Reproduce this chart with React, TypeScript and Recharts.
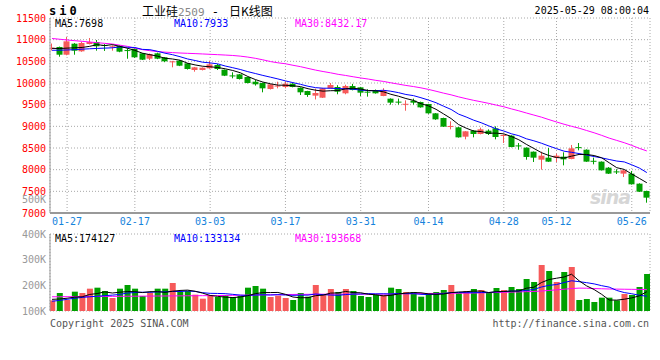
import React from 'react';
import {
  ComposedChart,
  Bar,
  Line,
  Cell,
  XAxis,
  YAxis,
  CartesianGrid,
} from 'recharts';

// ---- daily candles, 2025-01-23 .. 2025-05-28 (index = trading day) ----
const openP = [10805, 10831, 10653, 10907, 10731, 10900, 10946, 10877, 10840, 10860,
  10760, 10792, 10685, 10561, 10685, 10593, 10495, 10515, 10454, 10300,
  10300, 10339, 10415, 10307, 10175, 10200, 10138, 10030, 10000, 9861,
  9935, 9908, 9984, 9891, 9815, 9708, 9661, 9877, 9908, 9762,
  9931, 9900, 9800, 9838, 9700, 9638, 9570, 9513, 9592, 9561,
  9515, 9300, 9192, 9000, 8977, 8761, 8900, 8823, 8900, 8954,
  8785, 8785, 8560, 8508, 8415, 8231, 8277, 8277, 8300, 8246,
  8520, 8461, 8205, 8185, 8046, 7960, 7908, 7908, 7677, 7508];
const highP = [10911, 10840, 11061, 10920, 10946, 11038, 10992, 10900, 10870, 10870,
  10800, 10800, 10690, 10680, 10700, 10600, 10510, 10530, 10460, 10370,
  10360, 10508, 10440, 10310, 10247, 10210, 10145, 10070, 10010, 9975,
  10030, 10030, 9995, 9900, 9820, 9870, 9880, 10000, 9950, 9960,
  9980, 9910, 9855, 9850, 9880, 9645, 9640, 9600, 9640, 9570,
  9520, 9305, 9200, 9115, 8985, 8890, 8915, 8970, 8930, 9000,
  8815, 8795, 8615, 8515, 8420, 8415, 8500, 8370, 8400, 8570,
  8615, 8470, 8277, 8190, 8060, 8010, 7990, 7970, 7685, 7515];
const lowP = [10750, 10607, 10640, 10653, 10720, 10890, 10746, 10740, 10746, 10710,
  10560, 10580, 10530, 10530, 10550, 10480, 10362, 10390, 10310, 10261,
  10290, 10330, 10300, 10160, 10108, 10080, 9990, 9940, 9785, 9850,
  9877, 9877, 9900, 9723, 9680, 9620, 9655, 9870, 9740, 9740,
  9830, 9700, 9685, 9755, 9695, 9500, 9500, 9360, 9500, 9430,
  9290, 9150, 8985, 8930, 8740, 8700, 8746, 8815, 8800, 8700,
  8615, 8515, 8460, 8230, 8177, 8000, 8180, 8177, 8100, 8240,
  8446, 8180, 8123, 7980, 7900, 7900, 7830, 7655, 7485, 7238];
const closeP = [10815, 10653, 10962, 10745, 10923, 10946, 10847, 10860, 10847, 10723,
  10740, 10593, 10538, 10669, 10561, 10500, 10500, 10399, 10323, 10362,
  10353, 10431, 10323, 10169, 10169, 10092, 10000, 9970, 9877, 9970,
  9940, 9984, 9908, 9785, 9723, 9769, 9877, 9954, 9800, 9931,
  9838, 9777, 9790, 9762, 9823, 9546, 9561, 9520, 9546, 9438,
  9300, 9161, 8992, 9008, 8746, 8885, 8823, 8931, 8823, 8754,
  8800, 8523, 8550, 8293, 8277, 8323, 8185, 8323, 8238, 8492,
  8515, 8185, 8200, 7985, 7908, 7954, 7985, 7662, 7492, 7354];

// price moving averages
const ma5P = [10800, 10795, 10805, 10812, 10820, 10846, 10885, 10864, 10885, 10845,
  10803, 10753, 10688, 10653, 10620, 10572, 10554, 10526, 10457, 10417,
  10387, 10374, 10358, 10328, 10289, 10237, 10151, 10080, 10022, 9982,
  9951, 9948, 9936, 9917, 9868, 9834, 9812, 9822, 9825, 9866,
  9880, 9860, 9827, 9820, 9798, 9740, 9696, 9642, 9599, 9522,
  9473, 9393, 9287, 9180, 9041, 8958, 8891, 8879, 8842, 8843,
  8826, 8766, 8690, 8584, 8489, 8393, 8326, 8280, 8269, 8312,
  8351, 8351, 8326, 8275, 8159, 8046, 8006, 7899, 7800, 7698];
const ma10P = [10755, 10757, 10762, 10770, 10780, 10790, 10798, 10805, 10812, 10832,
  10825, 10819, 10776, 10769, 10732, 10688, 10653, 10607, 10555, 10519,
  10480, 10464, 10442, 10392, 10353, 10312, 10262, 10219, 10175, 10135,
  10094, 10049, 10008, 9970, 9925, 9893, 9880, 9879, 9871, 9867,
  9857, 9836, 9824, 9822, 9832, 9810, 9778, 9735, 9709, 9660,
  9606, 9545, 9465, 9390, 9282, 9216, 9142, 9083, 9011, 8942,
  8892, 8829, 8784, 8713, 8666, 8610, 8546, 8485, 8427, 8400,
  8372, 8338, 8303, 8272, 8235, 8199, 8179, 8112, 8038, 7933];
const ma30P = [11027, 11010, 10992, 10977, 10962, 10946, 10931, 10915, 10900, 10873,
  10846, 10805, 10770, 10745, 10725, 10712, 10702, 10692, 10685, 10678,
  10670, 10662, 10654, 10645, 10635, 10620, 10598, 10570, 10535, 10495,
  10466, 10444, 10409, 10377, 10337, 10298, 10265, 10235, 10200, 10174,
  10144, 10116, 10091, 10061, 10037, 10005, 9974, 9944, 9918, 9888,
  9852, 9810, 9766, 9727, 9680, 9639, 9600, 9566, 9530, 9490,
  9452, 9403, 9358, 9308, 9260, 9212, 9155, 9101, 9049, 9001,
  8957, 8904, 8851, 8792, 8728, 8675, 8622, 8560, 8492, 8432];

// volume (lots) and its moving averages, in thousands
const volK = [95, 162, 99, 174, 162, 201, 210, 180, 117, 201,
  234, 201, 135, 165, 201, 201, 252, 174, 180, 147,
  111, 144, 126, 144, 126, 135, 210, 225, 201, 126,
  138, 117, 99, 162, 129, 234, 144, 198, 171, 198,
  180, 135, 126, 144, 144, 210, 198, 171, 171, 129,
  162, 171, 189, 234, 162, 180, 198, 189, 162, 207,
  189, 216, 198, 288, 261, 414, 360, 261, 351, 396,
  99, 108, 81, 120, 120, 96, 153, 144, 216, 333];
const volMa5K = [105, 108, 115, 125, 128, 149, 157, 172, 162, 169,
  175, 174, 166, 174, 174, 168, 178, 185, 188, 178,
  161, 140, 132, 125, 121, 126, 138, 156, 166, 166,
  167, 150, 126, 119, 120, 138, 143, 161, 163, 176,
  166, 164, 151, 146, 136, 141, 153, 161, 166, 164,
  154, 150, 153, 165, 171, 174, 179, 179, 166, 174,
  176, 179, 180, 205, 214, 256, 283, 295, 306, 331,
  272, 226, 193, 150, 99, 98, 106, 118, 136, 174];
const volMa10K = [88, 95, 105, 115, 122, 128, 133, 138, 143, 149,
  162, 166, 169, 168, 172, 172, 176, 175, 180, 176,
  165, 159, 158, 156, 150, 143, 140, 144, 146, 144,
  147, 144, 141, 143, 143, 153, 147, 144, 141, 148,
  152, 153, 156, 154, 155, 153, 158, 156, 156, 150,
  148, 152, 157, 166, 167, 165, 165, 166, 166, 172,
  175, 179, 180, 185, 194, 216, 231, 238, 256, 272,
  264, 255, 244, 228, 215, 185, 166, 155, 142, 133];
const volMa30K = [128, 128, 129, 129, 130, 130, 131, 131, 132, 132,
  133, 133, 134, 134, 135, 135, 136, 136, 137, 137,
  138, 138, 139, 140, 141, 142, 143, 144, 145, 146,
  147, 148, 149, 150, 150, 151, 151, 152, 152, 152,
  152, 152, 152, 152, 152, 153, 154, 155, 156, 157,
  158, 158, 159, 159, 160, 161, 162, 164, 165, 167,
  168, 170, 172, 174, 176, 180, 185, 190, 196, 202,
  206, 205, 202, 200, 198, 197, 196, 195, 194, 194];

// axes
const dateTicks = [2, 11, 21, 31, 41, 50, 60, 67, 77];
const dateLabels = ['01-27', '02-17', '03-03', '03-17', '03-31', '04-14', '04-28', '05-12', '05-26'];
const priceTicks = [7000, 7500, 8000, 8500, 9000, 9500, 10000, 10500, 11000, 11500];
const volLabelTicks = [100000, 200000, 300000, 400000];
const volGridTicks = [138000, 318000, 498000];

const RED = '#f65a5a';
const GREEN = '#00a000';
const MONO = '"DejaVu Sans Mono", "Liberation Mono", monospace';
const BORDER = '#999';
const GRID = '#a8a8a8';
const X_DOMAIN: [number, number] = [-0.27, 79.42];

const rows = closeP.map((c, i) => ({
  i,
  open: openP[i],
  high: highP[i],
  low: lowP[i],
  close: c,
  ma5: ma5P[i],
  ma10: ma10P[i],
  ma30: ma30P[i],
  vol: volK[i] * 1000,
  vma5: volMa5K[i] * 1000,
  vma10: volMa10K[i] * 1000,
  vma30: volMa30K[i] * 1000,
}));

const Candle = (props: any) => {
  const { x, y, width, height, payload } = props;
  const { open, close, high, low } = payload;
  const color = close >= open ? RED : GREEN;
  const top = Math.min(y, y + height);
  const h = Math.abs(height);
  const ppu = h / (high - low || 1);
  const bodyTop = top + (high - Math.max(open, close)) * ppu;
  const bodyH = Math.max(Math.abs(close - open) * ppu, 1);
  const cx = Math.round(x + width / 2) - 0.5;
  return (
    <g>
      <line x1={cx} x2={cx} y1={top} y2={top + h} stroke={color} strokeWidth={1} />
      <rect x={cx - 3} y={bodyTop} width={6} height={bodyH} fill={color} />
    </g>
  );
};

const txt = (extra: React.CSSProperties): React.CSSProperties => ({
  position: 'absolute',
  fontFamily: MONO,
  fontSize: 10,
  lineHeight: '10px',
  whiteSpace: 'pre',
  ...extra,
});

const tickStyle = (fill: string) => ({ fill, fontSize: 10, fontFamily: MONO });

export default function App() {
  return (
    <div style={{ position: 'absolute', left: 0, top: 0, width: 660, height: 360, background: '#fff', overflow: 'hidden' }}>
      {/* header */}
      <div style={txt({ left: 49, top: 5, fontSize: 12, lineHeight: '12px', fontWeight: 'bold', letterSpacing: 3 })}>si0</div>
      <div style={txt({ left: 142, top: 4, fontSize: 12, lineHeight: '13px' })}>
        <span style={{ fontFamily: '"Noto Sans CJK SC", sans-serif' }}>工业硅</span>
        <span style={{ color: '#888', fontSize: 11 }}>2509</span>
        <span> - </span>
        <span style={{ fontFamily: '"Noto Sans CJK SC", sans-serif' }}> 日K线图</span>
      </div>
      <div style={txt({ right: 11, top: 6 })}>2025-05-29 08:00:04</div>

      {/* price panel */}
      <div style={{ position: 'absolute', left: 0, top: 0 }}>
        <ComposedChart width={660} height={230} data={rows} margin={{ top: 18, right: 10, bottom: 0, left: 0 }}>
          <CartesianGrid stroke={GRID} strokeDasharray="1 2" />
          <XAxis
            dataKey="i"
            type="number"
            domain={X_DOMAIN}
            allowDataOverflow
            ticks={dateTicks}
            interval={0}
            tickFormatter={(v: number) => dateLabels[dateTicks.indexOf(v)]}
            tick={tickStyle('#1583dc')}
            tickLine={false}
            tickSize={3}
            tickMargin={2}
            height={17}
            axisLine={{ stroke: BORDER, strokeWidth: 2 }}
          />
          <XAxis xAxisId="top" orientation="top" dataKey="i" type="number" domain={X_DOMAIN} allowDataOverflow height={0} tick={false} tickLine={false} axisLine={{ stroke: BORDER }} />
          <YAxis
            domain={[7000, 11500]}
            allowDataOverflow
            ticks={priceTicks}
            interval={0}
            width={50}
            tick={tickStyle('#ff0000')}
            tickLine={false}
            tickSize={2}
            tickMargin={2}
            axisLine={{ stroke: BORDER }}
          />
          <YAxis yAxisId="r" orientation="right" width={0} domain={[0, 1]} tick={false} tickLine={false} axisLine={{ stroke: BORDER }} />
          <Bar dataKey={(d: any) => [d.low, d.high]} barSize={6} shape={<Candle />} isAnimationActive={false} />
          <Line dataKey="ma30" stroke="#ff00ff" strokeWidth={1} dot={false} isAnimationActive={false} />
          <Line dataKey="ma10" stroke="#0000ff" strokeWidth={1} dot={false} isAnimationActive={false} />
          <Line dataKey="ma5" stroke="#000" strokeWidth={1} dot={false} isAnimationActive={false} />
        </ComposedChart>
      </div>
      <div style={txt({ left: 55, top: 19 })}>MA5:7698</div>
      <div style={txt({ left: 174, top: 19, color: '#0000ff' })}>MA10:7933</div>
      <div style={txt({ left: 295, top: 19, color: '#ff00ff' })}>MA30:8432.17</div>
      <div style={txt({ right: 614, top: 195, color: '#999' })}>500K</div>
      <div style={{ position: 'absolute', left: 590, top: 186, fontFamily: '"DejaVu Sans", sans-serif', fontSize: 19, fontWeight: 'bold', fontStyle: 'italic', color: '#d6d6d6', letterSpacing: -1 }}>sina</div>

      {/* volume panel */}
      <div style={{ position: 'absolute', left: 0, top: 226 }}>
        <ComposedChart width={660} height={100} data={rows} margin={{ top: 8, right: 10, bottom: 15, left: 0 }}>
          <CartesianGrid stroke={GRID} strokeDasharray="1 2" />
          <XAxis dataKey="i" type="number" domain={X_DOMAIN} allowDataOverflow ticks={dateTicks} interval={0} height={0} tick={false} tickLine={false} axisLine={false} />
          <XAxis xAxisId="top" orientation="top" dataKey="i" type="number" domain={X_DOMAIN} allowDataOverflow height={0} tick={false} tickLine={false} axisLine={{ stroke: BORDER }} />
          <YAxis domain={[0, 693000]} allowDataOverflow ticks={volGridTicks} width={0} tick={false} tickLine={false} axisLine={false} />
          <YAxis
            yAxisId="lab"
            domain={[100000, 400000]}
            allowDataOverflow
            ticks={volLabelTicks}
            interval={0}
            width={50}
            tickFormatter={(v: number) => `${v / 1000}K`}
            tick={tickStyle('#999')}
            tickLine={false}
            tickSize={2}
            tickMargin={2}
            axisLine={{ stroke: BORDER }}
          />
          <YAxis yAxisId="r" orientation="right" width={0} domain={[0, 1]} tick={false} tickLine={false} axisLine={{ stroke: BORDER }} />
          <Bar dataKey="vol" barSize={6} isAnimationActive={false}>
            {rows.map((r) => (
              <Cell key={r.i} fill={r.close >= r.open ? RED : GREEN} />
            ))}
          </Bar>
          <Line yAxisId="lab" dataKey="vma30" stroke="none" dot={false} activeDot={false} isAnimationActive={false} />
          <Line dataKey="vma30" stroke="#ff00ff" strokeWidth={1} dot={false} isAnimationActive={false} />
          <Line dataKey="vma10" stroke="#0000ff" strokeWidth={1} dot={false} isAnimationActive={false} />
          <Line dataKey="vma5" stroke="#000" strokeWidth={1} dot={false} isAnimationActive={false} />
        </ComposedChart>
      </div>
      <div style={txt({ left: 55, top: 234 })}>MA5:174127</div>
      <div style={txt({ left: 174, top: 234, color: '#0000ff' })}>MA10:133134</div>
      <div style={txt({ left: 295, top: 234, color: '#ff00ff' })}>MA30:193668</div>

      {/* footer */}
      <div style={txt({ left: 50, top: 319, color: '#555' })}>Copyright 2025 SINA.COM</div>
      <div style={txt({ right: 11, top: 319, color: '#555' })}>http://finance.sina.com.cn</div>
    </div>
  );
}
